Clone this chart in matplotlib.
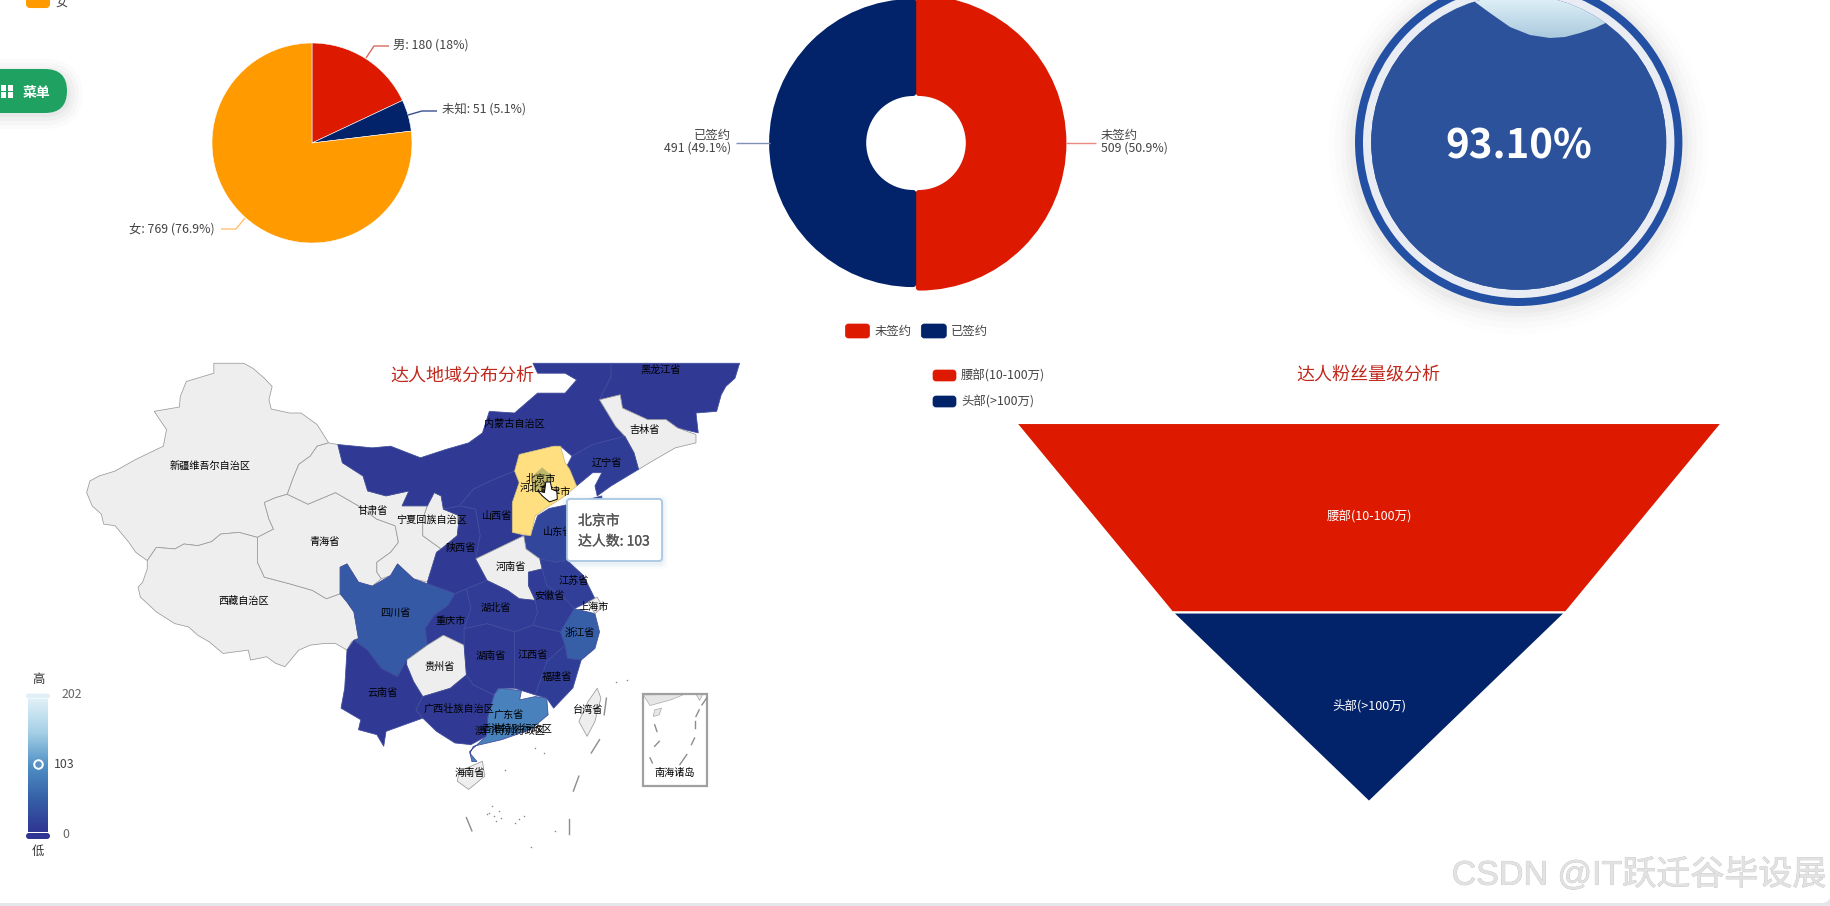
import numpy as np
import matplotlib
matplotlib.use("Agg")
import matplotlib.pyplot as plt
import matplotlib.patheffects as pe
from matplotlib.patches import Polygon, Circle, FancyBboxPatch, Rectangle
from matplotlib.colors import LinearSegmentedColormap

plt.rcParams['font.family'] = ['Noto Sans CJK SC', 'DejaVu Sans']

W, H = 1831, 906
RED = '#DD1900'
NAVY = '#02236A'
ORANGE = '#FF9A00'

# ---- data ----
gender_labels = ['男', '未知', '女']
gender_values = [180, 51, 769]
gender_colors = [RED, NAVY, ORANGE]

sign_labels = ['未签约', '已签约']
sign_values = [509, 491]

liquid_value = '93.10%'

funnel_labels = ['腰部(10-100万)', '头部(>100万)']
funnel_widths = [100, 55.7, 0]

visual_ticks = [0, 103, 202]
visual_colors = ['#2f3593', '#3660a8', '#5090c6', '#a5d0e6', '#e0f0f8']

# map outlines, in map units
XINJIANG = [(335,40),(400,40),(420,55),(445,85),(462,110),(455,150),(460,178),(500,190),(525,190),(560,225),(585,280),(560,290),(545,320),(520,345),(508,385),(495,435),(470,445),(445,460),(455,510),(465,540),(430,565),(390,550),(350,555),(330,578),(300,590),(270,585),(250,600),(210,595),(190,635),(165,610),(150,580),(120,530),(95,525),(90,495),(70,470),(58,430),(65,395),(85,380),(120,365),(165,330),(225,290),(232,240),(205,185),(260,172),(262,140),(275,95),(335,70)]
XIZANG = [(190,635),(210,595),(250,600),(270,585),(300,590),(330,578),(350,555),(390,550),(430,565),(430,640),(445,685),(500,705),(550,725),(580,750),(610,735),(625,760),(640,790),(650,870),(635,880),(625,905),(600,885),(575,885),(545,890),(520,905),(490,955),(470,945),(450,925),(415,935),(410,905),(355,915),(325,880),(300,860),(280,835),(250,825),(210,790),(175,745),(170,715),(180,700),(190,660)]
QINGHAI = [(445,460),(470,445),(495,435),(540,465),(600,430),(650,470),(690,510),(730,530),(737,580),(720,610),(690,640),(690,670),(700,690),(680,712),(650,700),(625,645),(610,655),(610,735),(580,750),(550,725),(500,705),(445,685),(430,640),(430,565),(465,540),(455,510)]
GANSU = [(520,345),(545,320),(560,290),(585,280),(605,285),(615,340),(660,380),(670,425),(710,440),(760,425),(745,470),(800,470),(790,510),(790,560),(830,600),(820,610),(800,700),(770,690),(735,645),(720,680),(700,690),(690,670),(690,640),(720,610),(737,580),(730,530),(690,510),(650,470),(600,430),(540,465),(495,435),(508,385)]
NINGXIA = [(800,470),(815,430),(830,440),(835,480),(870,500),(865,560),(830,600),(790,560),(790,510)]
NEIMENG = [(1030,40),(1200,40),(1200,80),(1175,150),(1210,230),(1230,260),(1160,285),(1115,320),(1090,290),(1075,290),(1000,315),(990,365),(945,390),(900,420),(870,470),(835,480),(830,440),(815,430),(800,470),(745,470),(760,425),(710,440),(670,425),(660,380),(615,340),(605,285),(680,295),(720,290),(785,325),(840,300),(890,280),(920,250),(935,185),(990,190),(1040,130),(1100,130),(1125,90),(1100,70),(1040,70)]
HEILONGJIANG = [(1200,40),(1480,40),(1470,85),(1450,110),(1440,135),(1430,185),(1385,190),(1390,250),(1345,235),(1320,210),(1280,210),(1225,175),(1220,135),(1175,150),(1200,80)]
JILIN = [(1175,150),(1220,135),(1225,175),(1280,210),(1320,210),(1345,235),(1385,255),(1385,280),(1340,295),(1290,335),(1260,360),(1250,310),(1230,260),(1210,230)]
LIAONING = [(1115,320),(1160,285),(1230,260),(1250,310),(1260,360),(1200,410),(1170,440),(1165,410),(1180,370),(1160,370),(1125,410),(1110,400),(1100,360)]
HEBEI = [(1000,315),(1075,290),(1090,290),(1100,340),(1110,360),(1125,410),(1095,445),(1060,475),(1035,500),(1025,560),(985,550),(985,460),(1000,400),(990,365)]
BEIJING = [(1030,380),(1050,355),(1075,385),(1060,420),(1030,425)]
SHANXI = [(945,390),(990,365),(1000,400),(985,460),(985,550),(1010,560),(965,590),(905,630),(915,560),(905,480),(870,470),(900,420)]
SHANDONG = [(1025,560),(1040,500),(1065,478),(1110,465),(1180,440),(1180,520),(1140,600),(1105,635),(1080,640),(1045,630),(1015,600),(1010,560)]
HENAN = [(1010,560),(1015,600),(1045,630),(1050,660),(1020,670),(1020,710),(1035,755),(1000,750),(975,725),(930,695),(905,630),(965,590)]
SHAANXI = [(870,470),(905,480),(915,560),(905,630),(930,695),(885,720),(860,735),(800,705),(800,700),(820,610),(830,600),(865,560),(870,500),(835,480)]
SICHUAN = [(610,655),(625,645),(650,700),(680,712),(720,680),(735,645),(770,690),(800,705),(860,735),(845,770),(815,800),(795,840),(800,890),(755,935),(735,985),(700,960),(670,905),(640,875),(650,870),(640,790),(625,760),(610,735)]
CHONGQING = [(860,735),(885,720),(895,780),(880,840),(880,890),(835,860),(800,890),(795,840),(815,800),(845,770)]
GUIZHOU = [(800,890),(835,860),(880,890),(885,980),(850,1020),(790,1045),(770,1000),(755,950),(755,935)]
YUNNAN = [(625,905),(640,875),(670,905),(700,960),(735,985),(755,935),(755,950),(770,1000),(790,1045),(775,1085),(790,1110),(750,1130),(710,1150),(705,1195),(690,1160),(650,1145),(655,1115),(612,1080),(620,1020)]
GUANGXI = [(790,1045),(850,1020),(885,980),(900,1010),(945,1040),(932,1105),(928,1165),(895,1190),(860,1185),(820,1150),(790,1110),(775,1085)]
HUNAN = [(880,840),(930,825),(990,850),(990,1020),(955,1020),(945,1040),(900,1010),(885,980),(880,890)]
HUBEI = [(885,720),(930,695),(975,725),(1000,750),(1035,755),(1040,790),(1030,830),(990,850),(930,825),(880,840),(895,780)]
JIANGXI = [(990,850),(1030,830),(1090,850),(1100,890),(1060,940),(1035,1040),(990,1020)]
ANHUI = [(1020,670),(1050,660),(1060,710),(1100,750),(1120,780),(1090,850),(1030,830),(1040,790),(1035,755),(1020,710)]
JIANGSU = [(1050,660),(1045,630),(1080,640),(1105,635),(1140,680),(1165,750),(1120,780),(1100,750),(1060,710)]
ZHEJIANG = [(1120,780),(1165,795),(1175,850),(1165,900),(1135,935),(1105,930),(1100,890),(1090,850)]
SHANGHAI = [(1150,760),(1170,745),(1182,775),(1165,795)]
FUJIAN = [(1100,890),(1105,930),(1135,935),(1117,1019),(1075,1080),(1060,1050),(1035,1040),(1060,940)]
GUANGDONG = [(947,1035),(958,1020),(1005,1027),(1001,1055),(1035,1045),(1060,1050),(1063,1100),(1024,1145),(962,1175),(900,1195),(893,1216),(908,1241),(897,1241),(892,1211),(928,1165),(932,1105)]
HAINAN = [(870,1270),(920,1240),(925,1285),(890,1325),(865,1300)]
TAIWAN = [(1150,1060),(1170,1020),(1178,1050),(1165,1120),(1148,1165),(1130,1120)]

province_shapes = [XINJIANG, XIZANG, QINGHAI, GANSU, NINGXIA, NEIMENG, HEILONGJIANG, JILIN, LIAONING,
                   SHANXI, SHANDONG, HENAN, SHAANXI, SICHUAN, CHONGQING, GUIZHOU, YUNNAN, GUANGXI, HUNAN,
                   HUBEI, JIANGXI, ANHUI, JIANGSU, ZHEJIANG, SHANGHAI, FUJIAN, GUANGDONG, HAINAN, TAIWAN]
# values read from colours; nan = no data (grey)
province_values = [np.nan, np.nan, np.nan, np.nan, np.nan, 6, 6, np.nan, 10,
                   6, 22, np.nan, 6, 43, 8, np.nan, 6, 6, 6,
                   8, 6, 8, 12, 50, np.nan, 10, 85, np.nan, np.nan]
highlight_shapes = [HEBEI, BEIJING]
highlight_colors = ['#FFDF80', '#BDB76B']

label_names = ['新疆维吾尔自治区','西藏自治区','青海省','甘肃省','宁夏回族自治区','内蒙古自治区','黑龙江省','吉林省','辽宁省',
               '北京市','河北省','天津市','山西省','山东省','陕西省','河南省','江苏省','安徽省','上海市','湖北省','四川省','重庆市',
               '浙江省','贵州省','湖南省','江西省','福建省','云南省','广西壮族自治区','广东省','香港特别行政区','澳门特别行政区',
               '台湾省','海南省','南海诸岛']
label_x = [326,401,577,682,810,990,1308,1272,1190,1048,1035,1080,952,1085,873,982,1118,1065,1163,950,730,850,
           1132,826,938,1030,1083,702,870,978,995,980,1150,893,1338]
label_y = [350,758,580,485,512,224,60,242,340,390,415,428,500,550,598,655,695,742,775,778,793,817,
           853,955,922,920,985,1033,1082,1102,1143,1150,1085,1275,1274]

sea_dashes = [[(1190,1050),(1185,1100)],[(1175,1175),(1157,1215)],[(1130,1285),(1118,1330)],[(885,1410),(897,1450)],[(1108,1415),(1108,1458)]]
inset_dashes = [[(1408,1050),(1398,1070)],[(1392,1085),(1385,1105)],[(1382,1120),(1382,1140)],[(1382,1170),(1375,1190)],[(1365,1220),(1350,1250)],[(1285,1230),(1290,1245)],[(1305,1180),(1295,1195)],[(1295,1130),(1300,1150)]]
inset_land = [[(1270,1040),(1360,1038),(1330,1055),(1285,1072)],[(1385,1038),(1400,1038),(1393,1057)],[(1295,1085),(1310,1080),(1305,1100),(1292,1105)]]
island_x = [1035,1055,935,945,955,960,930,950,1000,1010,990,1078,1210,1235,1025,940,970]
island_y = [1200,1215,1395,1405,1390,1410,1400,1420,1415,1405,1425,1450,1000,995,1500,1375,1265]
wave_x = [1460,1475,1490,1510,1530,1550,1565,1580,1595,1612,1640]
wave_y = [-5,2,13,27,35,38,37,33,28,20,5]

fig = plt.figure(figsize=(W/100, H/100), dpi=100, facecolor='#E4E7EA')

def px_axes(x0, y0, x1, y1, z=1):
    ax = fig.add_axes([x0/W, 1-y1/H, (x1-x0)/W, (y1-y0)/H], zorder=z)
    ax.axis('off')
    ax.patch.set_visible(False)
    return ax

# white page with its rounded lower corner
bg = px_axes(0, 0, W, H, z=0)
bg.set_xlim(0, W); bg.set_ylim(H, 0)
bg.add_patch(FancyBboxPatch((-30, -30), W+30, H-3+30, boxstyle='round,pad=0,rounding_size=10', fc='white', ec='none'))

# ---- gender pie ----
R = 100
ax = px_axes(312-R, 143-R, 312+R, 143+R)
ax.pie(gender_values, colors=gender_colors, startangle=90, counterclock=False, radius=R,
       wedgeprops=dict(linewidth=0.4, edgecolor='white'))
ax.set_xlim(-R, R); ax.set_ylim(-R, R)

# ---- signing rose donut: equal angles, radius follows the value ----
R2 = 160
IN, OUT = 50.0, 149.6
ax = px_axes(916-R2, 143-R2, 916+R2, 143+R2)
wedges, _ = ax.pie([1]*len(sign_values), colors=[RED, NAVY], startangle=90, counterclock=False, radius=R2)
ax.set_xlim(-R2, R2); ax.set_ylim(-R2, R2)
STROKE = 3.0
for w, v, side, c in zip(wedges, sign_values, [1, -1], [RED, NAVY]):
    r = IN + (OUT-IN)*v/max(sign_values) - 5.0
    w.set_radius(r)
    w.set_width(r - IN)
    w.set_center((side*(STROKE-0.2), 0))
    w.set_edgecolor(c); w.set_linewidth(2*STROKE*0.72); w.set_joinstyle('round')
    w.set_clip_on(False)

# ---- funnel ----
ax = px_axes(1016, 423, 1722, 802)
ax.set_xlim(-50, 50); ax.set_ylim(len(funnel_labels), 0)
for i, c in enumerate([RED, NAVY]):
    a, b = funnel_widths[i]/2, funnel_widths[i+1]/2
    ax.fill([-a, a, b, -b], [i, i, i+1, i+1], color=c, ec='white', lw=1.5)
    ax.text(0, i+0.49 + (0.0 if i else 0.005), funnel_labels[i], color='white', fontsize=9, ha='center', va='center')

# ---- map ----
cmap = LinearSegmentedColormap.from_list('vis', visual_colors)
mp = px_axes(60, 350, 780, 870, z=2)
mp.set_xlim(0, 1568); mp.set_ylim(1568, 0)
EDGE = '#9a9a9a'
for shape, v in zip(province_shapes, province_values):
    fc = '#EEEEEE' if np.isnan(v) else cmap(v/max(visual_ticks))
    ec = EDGE if np.isnan(v) else '#3f4c9c'
    mp.add_patch(Polygon(shape, closed=True, fc=fc, ec=ec, lw=0.55))
for shape, c in zip(highlight_shapes, highlight_colors):
    mp.add_patch(Polygon(shape, closed=True, fc=c, ec='#c8b878', lw=0.5))
for d in sea_dashes + inset_dashes:
    mp.plot(*zip(*d), color='#8c8c8c', lw=1.0)
for s in inset_land:
    mp.add_patch(Polygon(s, closed=True, fc='#E6E6E6', ec='#aaaaaa', lw=0.5))
mp.add_patch(Rectangle((1269, 1036), 139, 279, fc='none', ec='#a0a0a0', lw=1.6))
mp.scatter(island_x, island_y, s=1.2, color='#888888', linewidths=0)
for n, x, y in zip(label_names, label_x, label_y):
    mp.text(x, y, n, fontsize=7.3, color='black', ha='center', va='center')
mp.text(876, 78, '达人地域分布分析', fontsize=13, color='#C0281C', ha='center', va='center')
hand = [(1058,398),(1068,398),(1071,420),(1082,426),(1083,450),(1066,458),(1052,442),(1040,424),(1055,430)]
mp.add_patch(Polygon(hand, closed=True, fc='white', ec='black', lw=0.7, zorder=6))

# ---- overlay in pixels ----
ov = px_axes(0, 0, W, H, z=3)
ov.set_xlim(0, W); ov.set_ylim(H, 0)

def leader(pts, c):
    ov.plot(*zip(*pts), color=c, lw=1.0, solid_capstyle='butt')

TXT = '#444444'
FS = 8.9
ov.add_patch(FancyBboxPatch((27, -8), 22, 15, boxstyle='round,pad=0,rounding_size=3', fc=ORANGE, ec=ORANGE, lw=1.5))
ov.text(55, 2, '女', fontsize=FS, color=TXT, ha='left', va='center')
leader([(366,58),(374,46),(389,46)], '#D96A60')
ov.text(393, 45, '男: 180 (18%)', fontsize=FS, color=TXT, va='center')
leader([(408,115),(422,111),(437,111)], '#3A4F90')
ov.text(442, 110, '未知: 51 (5.1%)', fontsize=FS, color=TXT, va='center')
leader([(245,218),(236,229),(221,229)], '#FFC070')
ov.text(215, 229, '女: 769 (76.9%)', fontsize=FS, color=TXT, va='center', ha='right')

leader([(736,143),(770,143)], '#8090B8')
leader([(1066,143),(1096,143)], '#E88880')
ov.text(730.7, 136, '已签约', fontsize=FS, color=TXT, ha='right', va='center')
ov.text(730.7, 148, '491 (49.1%)', fontsize=FS, color=TXT, ha='right', va='center')
ov.text(1101, 136, '未签约', fontsize=FS, color=TXT, ha='left', va='center')
ov.text(1101, 148, '509 (50.9%)', fontsize=FS, color=TXT, ha='left', va='center')

def legend_item(x, y, w, h, c, label, tx):
    ov.add_patch(FancyBboxPatch((x, y), w, h, boxstyle='round,pad=0,rounding_size=3', fc=c, ec=c, lw=0.5))
    ov.text(tx, y+h/2, label, fontsize=FS, color=TXT, va='center')
legend_item(845.5, 324, 24, 14, RED, sign_labels[0], 874.6)
legend_item(921.3, 324, 25, 14, NAVY, sign_labels[1], 950.8)
legend_item(933, 370, 23, 11, RED, funnel_labels[0], 961)
legend_item(933, 396, 23, 11, NAVY, funnel_labels[1], 961)
ov.text(1368, 376, '达人粉丝量级分析', fontsize=13, color='#C0281C', ha='center', va='center')

# menu button
for g, a in zip([16, 12, 8, 4], [0.015, 0.02, 0.025, 0.03]):
    ov.add_patch(FancyBboxPatch((-40, 69-g+6), 107+g, 44+2*g-6, boxstyle='round,pad=0,rounding_size=%d' % (22+g), fc='black', ec='none', alpha=a))
ov.add_patch(FancyBboxPatch((-40, 69), 107, 44, boxstyle='round,pad=0,rounding_size=22', fc='#1FA162', ec='none'))
for x in (1, 8):
    for y in (85, 92):
        ov.add_patch(Rectangle((x, y), 5.5, 5.5, fc='white', ec='none'))
ov.text(37, 92.5, '菜单', fontsize=10, color='white', fontweight='bold', ha='center', va='center')

# liquid gauge
cx, cy = 1518.7, 142.3
for g, a in zip([26, 20, 14, 9, 5], [0.008, 0.012, 0.016, 0.02, 0.025]):
    ov.add_patch(Circle((cx, cy+2), 164+g, fc='black', ec='none', alpha=a))
ov.add_patch(Circle((cx, cy), 163.7, fc='#2450A4', ec='none'))
ov.add_patch(Circle((cx, cy), 155.7, fc='#E9ECF2', ec='none'))
ov.add_patch(Circle((cx, cy), 147.5, fc='#2C529C', ec='none'))
g = np.linspace(0, 1, 64)[:, None]
light = LinearSegmentedColormap.from_list('wave', ['#DCEEF7', '#A8C8DC'])
im = ov.imshow(g, cmap=light, extent=(1440, 1660, 40, 0), aspect='auto', zorder=1.5)
im.set_clip_path(Circle((cx, cy), 147.5, transform=ov.transData))
below = [(1300, -5)] + list(zip(wave_x, wave_y)) + [(1700, 5), (1700, 300), (1300, 300)]
body = Polygon(below, closed=True, fc='#2C529C', ec='none', zorder=1.6)
ov.add_patch(body)
body.set_clip_path(Circle((cx, cy), 147.5, transform=ov.transData))
ov.set_xlim(0, W); ov.set_ylim(H, 0)
ov.text(1519, 147, liquid_value, fontsize=29, fontweight='bold', color='white', ha='center', va='center', zorder=3)

# visual map legend
lg = px_axes(28, 699, 48, 832, z=3)
lg.imshow(np.linspace(1, 0, 256)[:, None], cmap=cmap, aspect='auto', extent=(0, 1, min(visual_ticks), max(visual_ticks)))
lg.set_xlim(0, 1); lg.set_ylim(min(visual_ticks), max(visual_ticks))
ov.add_patch(FancyBboxPatch((26, 693.5), 24, 5, boxstyle='round,pad=0,rounding_size=2.5', fc='#E0F0F6', ec='none'))
ov.add_patch(FancyBboxPatch((26, 833), 24, 6, boxstyle='round,pad=0,rounding_size=3', fc='#2F3593', ec='none'))
ov.text(38, 679, '高', fontsize=FS, color='#333333', ha='center', va='center')
ov.text(38, 851, '低', fontsize=FS, color='#333333', ha='center', va='center')
ov.text(62, 695, str(visual_ticks[2]), fontsize=FS, color='#666666', va='center')
ov.text(54, 765, str(visual_ticks[1]), fontsize=FS, color='#444444', va='center')
ov.text(62, 834, str(visual_ticks[0]), fontsize=FS, color='#666666', va='center')
lg.scatter([0.5], [visual_ticks[1]], s=38, fc='#5A92C6', ec='white', lw=1.4, clip_on=False, zorder=5)

# tooltip
for g, a in zip([6, 4, 2], [0.02, 0.03, 0.05]):
    ov.add_patch(FancyBboxPatch((567-g, 499-g+2), 95+2*g, 62+2*g, boxstyle='round,pad=0,rounding_size=5', fc='#3A6EA5', ec='none', alpha=a, zorder=4))
ov.add_patch(FancyBboxPatch((567, 499), 95, 62, boxstyle='round,pad=0,rounding_size=3', fc='white', ec='#A9C8E2', lw=1.3, zorder=4))
ov.text(578, 521, '北京市', fontsize=10, color='#555555', va='center', zorder=5,
        path_effects=[pe.withStroke(linewidth=0.2, foreground='#555555')])
ov.text(578, 541.5, '达人数: 103', fontsize=10, color='#555555', va='center', zorder=5,
        path_effects=[pe.withStroke(linewidth=0.2, foreground='#555555')])

# watermark
ov.text(1826, 875, 'CSDN @IT跃迁谷毕设展', fontsize=24.5, color='#E2E2E2', ha='right', va='center', zorder=5,
        family=['Liberation Sans', 'Noto Sans CJK SC'],
        path_effects=[pe.withStroke(linewidth=0.5, foreground='#C4C4C4')])

fig.savefig('out.png', dpi=100, facecolor=fig.get_facecolor())
